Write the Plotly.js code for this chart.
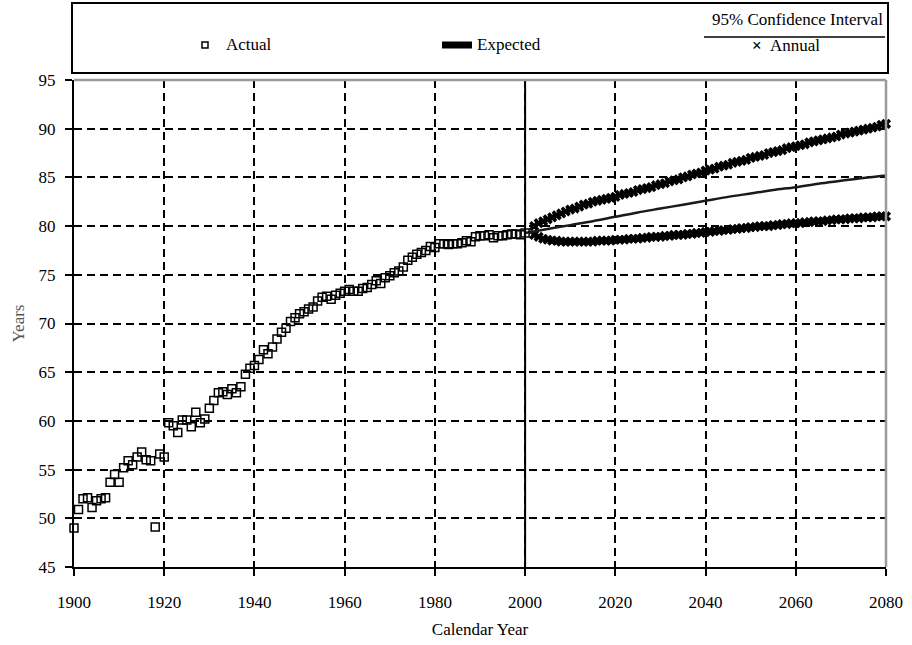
<!DOCTYPE html>
<html>
<head>
<meta charset="utf-8">
<script src="https://cdn.plot.ly/plotly-3.0.1.min.js"></script>
<style>html,body{margin:0;padding:0;background:#fff;}#chart{width:912px;height:645px;}</style>
</head>
<body>
<div id="chart"></div>
<script>
// ---- Data ----
const actualYears = [1900,1901,1902,1903,1904,1905,1906,1907,1908,1909,
  1910,1911,1912,1913,1914,1915,1916,1917,1918,1919,
  1920,1921,1922,1923,1924,1925,1926,1927,1928,1929,
  1930,1931,1932,1933,1934,1935,1936,1937,1938,1939,
  1940,1941,1942,1943,1944,1945,1946,1947,1948,1949,
  1950,1951,1952,1953,1954,1955,1956,1957,1958,1959,
  1960,1961,1962,1963,1964,1965,1966,1967,1968,1969,
  1970,1971,1972,1973,1974,1975,1976,1977,1978,1979,
  1980,1981,1982,1983,1984,1985,1986,1987,1988,1989,
  1990,1991,1992,1993,1994,1995,1996,1997,1998,1999,2000];
const actualValues = [49.0,50.9,52.0,52.1,51.1,51.8,52.0,52.1,53.7,54.5,
  53.7,55.2,55.9,55.5,56.3,56.8,56.0,55.9,49.1,56.6,
  56.3,59.8,59.5,58.8,60.1,60.1,59.4,60.9,59.8,60.2,
  61.3,62.1,62.9,63.0,62.7,63.3,62.9,63.5,64.8,65.4,
  65.7,66.3,67.3,66.9,67.6,68.4,69.1,69.5,70.2,70.6,
  71.0,71.2,71.5,71.7,72.3,72.7,72.8,72.5,72.9,73.1,
  73.3,73.5,73.3,73.3,73.6,73.7,74.0,74.4,74.1,74.7,
  74.9,75.2,75.4,75.8,76.5,76.8,77.1,77.3,77.5,77.9,
  77.8,78.2,78.2,78.1,78.2,78.2,78.3,78.5,78.4,78.9,
  79.0,79.0,79.1,78.8,79.0,79.0,79.1,79.2,79.2,79.1,79.3];

const expectedYears = [2000,2005,2010,2015,2020,2025,2030,2035,2040,2045,2050,2055,2060,2065,2070,2075,2080];
const expectedValues = [79.3,79.7,80.1,80.5,80.95,81.4,81.8,82.2,82.6,83.0,83.35,83.7,84.0,84.35,84.65,84.95,85.2];

const annualYears = [2002,2003,2004,2005,2006,2007,2008,2009,
  2010,2011,2012,2013,2014,2015,2016,2017,2018,2019,
  2020,2021,2022,2023,2024,2025,2026,2027,2028,2029,
  2030,2031,2032,2033,2034,2035,2036,2037,2038,2039,
  2040,2041,2042,2043,2044,2045,2046,2047,2048,2049,
  2050,2051,2052,2053,2054,2055,2056,2057,2058,2059,
  2060,2061,2062,2063,2064,2065,2066,2067,2068,2069,
  2070,2071,2072,2073,2074,2075,2076,2077,2078,2079,2080];
const upperValues = [80.0,80.3,80.5,80.7,80.9,81.1,81.3,81.5,
  81.7,81.8,82.0,82.2,82.3,82.5,82.6,82.7,82.8,82.9,
  83.0,83.2,83.3,83.4,83.5,83.7,83.8,83.9,84.0,84.2,
  84.3,84.4,84.6,84.7,84.8,85.0,85.1,85.3,85.4,85.5,
  85.7,85.8,85.9,86.1,86.2,86.3,86.5,86.6,86.7,86.8,
  87.0,87.1,87.2,87.3,87.5,87.6,87.7,87.8,88.0,88.1,
  88.2,88.3,88.4,88.6,88.7,88.8,88.9,89.0,89.1,89.2,
  89.4,89.5,89.6,89.7,89.8,89.9,90.0,90.1,90.2,90.4,90.5];
const lowerValues = [79.1,78.9,78.7,78.6,78.5,78.5,78.4,78.4,
  78.4,78.4,78.4,78.4,78.4,78.4,78.5,78.5,78.5,78.5,
  78.6,78.6,78.6,78.7,78.7,78.7,78.8,78.8,78.9,78.9,
  78.9,79.0,79.0,79.1,79.1,79.1,79.2,79.2,79.3,79.3,
  79.4,79.4,79.5,79.5,79.6,79.6,79.7,79.7,79.8,79.8,
  79.9,79.9,80.0,80.0,80.0,80.1,80.1,80.2,80.2,80.3,
  80.3,80.3,80.4,80.4,80.5,80.5,80.5,80.6,80.6,80.7,
  80.7,80.7,80.8,80.8,80.8,80.9,80.9,80.9,81.0,81.0,81.0];

const xTicks = [1900,1920,1940,1960,1980,2000,2020,2040,2060,2080];
const yTicks = [45,50,55,60,65,70,75,80,85,90,95];
const projectionStart = 2000;

const legendLabels = {actual: "Actual", expected: "Expected", ci: "95% Confidence Interval", annual: "Annual"};

// ---- Chart ----
const FONT = "Liberation Serif, Times New Roman, serif";

const traces = [
  {
    x: annualYears, y: upperValues, type: "scatter", mode: "markers",
    marker: {symbol: "x", size: 9, color: "#000", line: {width: 0}},
    cliponaxis: false, showlegend: false, hoverinfo: "skip"
  },
  {
    x: annualYears, y: lowerValues, type: "scatter", mode: "markers",
    marker: {symbol: "x", size: 9, color: "#000", line: {width: 0}},
    cliponaxis: false, showlegend: false, hoverinfo: "skip"
  },
  {
    x: expectedYears, y: expectedValues, type: "scatter", mode: "lines",
    line: {color: "#1a1a1a", width: 2.5, shape: "spline"},
    showlegend: false, hoverinfo: "skip"
  },
  {
    x: actualYears, y: actualValues, type: "scatter", mode: "markers",
    marker: {symbol: "square-open", size: 8, color: "#000", line: {width: 1.5, color: "#000"}},
    cliponaxis: false, showlegend: false, hoverinfo: "skip"
  }
];

// legend geometry in paper coordinates (plot: x 74..886, y 80..567 px)
const px = v => (v - 74) / 812;
const py = v => (567 - v) / 487;

const shapes = [
  // solid projection line
  {type: "line", xref: "x", yref: "paper", x0: projectionStart, x1: projectionStart, y0: 0, y1: 1,
   line: {color: "#000", width: 2}, layer: "above"},
  // top & right gray frame
  {type: "line", xref: "paper", yref: "paper", x0: 0, x1: 1, y0: 1, y1: 1, line: {color: "#9a9a9a", width: 2.5}, layer: "above"},
  {type: "line", xref: "paper", yref: "paper", x0: 1, x1: 1, y0: 0, y1: 1, line: {color: "#9a9a9a", width: 2.5}, layer: "above"},
  // legend box
  {type: "rect", xref: "paper", yref: "paper", x0: px(72), x1: px(888), y0: py(73), y1: py(3),
   line: {color: "#000", width: 2}, fillcolor: "rgba(0,0,0,0)"},
  // actual symbol
  {type: "rect", xref: "paper", yref: "paper", xsizemode: "pixel", ysizemode: "pixel",
   xanchor: px(205), yanchor: py(45), x0: -3, x1: 3, y0: -3, y1: 3,
   line: {color: "#000", width: 1.5}, fillcolor: "#fff"},
  // expected symbol
  {type: "line", xref: "paper", yref: "paper", x0: px(442), x1: px(472), y0: py(45), y1: py(45),
   line: {color: "#000", width: 7}},
  // CI underline
  {type: "line", xref: "paper", yref: "paper", x0: px(704), x1: px(885), y0: py(37), y1: py(37),
   line: {color: "#000", width: 1.5}}
];

const annotations = [
  {xref: "paper", yref: "paper", x: px(224), y: py(45), xanchor: "left", yanchor: "middle",
   text: legendLabels.actual, showarrow: false, font: {family: FONT, size: 17, color: "#000"}},
  {xref: "paper", yref: "paper", x: px(475), y: py(45), xanchor: "left", yanchor: "middle",
   text: legendLabels.expected, showarrow: false, font: {family: FONT, size: 17, color: "#000"}},
  {xref: "paper", yref: "paper", x: px(885), y: py(20), xanchor: "right", yanchor: "middle",
   text: legendLabels.ci, showarrow: false, font: {family: FONT, size: 17, color: "#000"}},
  {xref: "paper", yref: "paper", x: px(757), y: py(46), xanchor: "center", yanchor: "middle",
   text: "<b>×</b>", showarrow: false, font: {family: FONT, size: 17, color: "#000"}},
  {xref: "paper", yref: "paper", x: px(768), y: py(46), xanchor: "left", yanchor: "middle",
   text: legendLabels.annual, showarrow: false, font: {family: FONT, size: 17, color: "#000"}}
];

const layout = {
  width: 912, height: 645,
  margin: {l: 74, r: 26, t: 80, b: 78, pad: 0},
  paper_bgcolor: "#fff", plot_bgcolor: "#fff",
  font: {family: FONT, size: 17, color: "#000"},
  showlegend: false,
  xaxis: {
    range: [1900, 2080], tickvals: xTicks, ticktext: xTicks.map(String),
    ticks: "outside", ticklen: 7, tickwidth: 2, tickcolor: "#000",
    ticklabelstandoff: 12,
    showline: true, linecolor: "#000", linewidth: 2,
    showgrid: true, gridcolor: "#000", gridwidth: 2, griddash: "8px,5px",
    zeroline: false,
    tickfont: {family: FONT, size: 17, color: "#000"},
    title: {text: "Calendar Year", font: {family: FONT, size: 17, color: "#000"}, standoff: 12}
  },
  yaxis: {
    range: [45, 95], tickvals: yTicks, ticktext: yTicks.map(String),
    ticks: "outside", ticklen: 7, tickwidth: 2, tickcolor: "#000",
    ticklabelstandoff: 6,
    showline: true, linecolor: "#000", linewidth: 2,
    showgrid: true, gridcolor: "#000", gridwidth: 2, griddash: "8px,5px",
    zeroline: false,
    tickfont: {family: FONT, size: 17, color: "#000"},
    title: {text: "Years", font: {family: FONT, size: 17, color: "#555"}, standoff: 10}
  },
  shapes: shapes,
  annotations: annotations
};

Plotly.newPlot("chart", traces, layout, {staticPlot: true, displayModeBar: false});
</script>
</body>
</html>
